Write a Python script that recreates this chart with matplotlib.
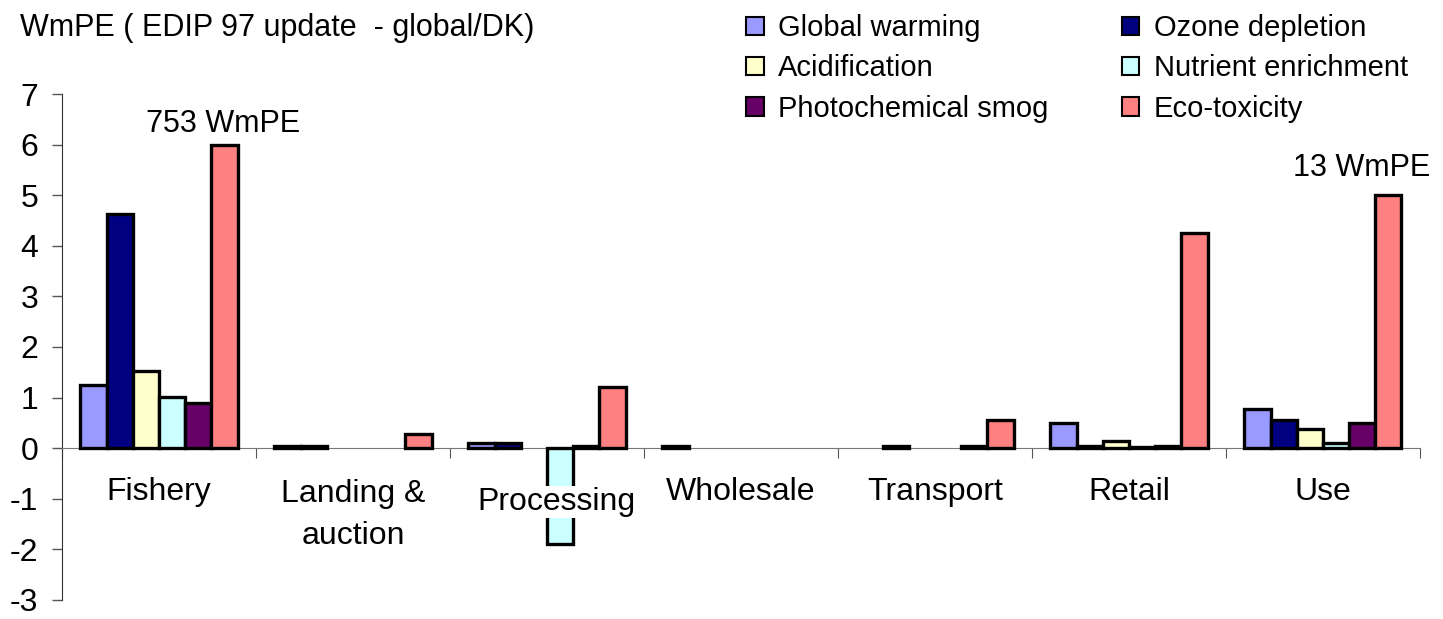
import numpy as np
import matplotlib.pyplot as plt
from matplotlib.patches import Patch

plt.rcParams['font.family'] = ['Liberation Sans', 'DejaVu Sans']
plt.rcParams['axes.unicode_minus'] = False

kategorier = ['Fishery', 'Landing &\nauction', 'Processing', 'Wholesale', 'Transport', 'Retail', 'Use']
serier = ['Global warming', 'Ozone depletion', 'Acidification',
          'Nutrient enrichment', 'Photochemical smog', 'Eco-toxicity']
farger = ['#9999FF', '#000080', '#FFFFCC', '#CCFFFF', '#660066', '#FF8080']

global_warming = [1.25, 0.05, 0.10, 0.04, 0.0, 0.50, 0.78]
ozone = [4.63, 0.05, 0.10, 0.0, 0.04, 0.04, 0.55]
acidification = [1.53, 0.0, 0.0, 0.0, 0.0, 0.15, 0.38]
nutrient = [1.02, 0.0, -1.90, 0.0, 0.0, 0.03, 0.10]
smog = [0.90, 0.0, 0.05, 0.0, 0.04, 0.04, 0.50]
eco_tox = [6.00, 0.28, 1.20, 0.0, 0.55, 4.25, 5.00]
data = [global_warming, ozone, acidification, nutrient, smog, eco_tox]

# text over capped bars
etiketter = {0: '753 WmPE', 6: '13 WmPE'}

fig = plt.figure(figsize=(14.43, 6.19), dpi=100)
ax = fig.add_axes([0.043, 0.031, 0.941, 0.817])

x = np.arange(len(kategorier))
bredd = 0.135
for i, (namn, varden) in enumerate(zip(serier, data)):
    pos = x + (i - 2.5) * bredd
    for p, v in zip(pos, varden):
        if v == 0:
            continue
        ax.bar(p, v, width=bredd, color=farger[i], edgecolor='black', linewidth=2.4, zorder=3)

ax.text(x[0] + 0.33, eco_tox[0] + 0.12, etiketter[0], ha='center', va='bottom', fontsize=22)
ax.text(x[6] + 0.2, eco_tox[6] + 0.25, etiketter[6], ha='center', va='bottom', fontsize=22)

ax.set_xlim(-0.5, len(kategorier) - 0.5)
ax.set_ylim(-3, 7)
ax.set_yticks(range(-3, 8))
ax.tick_params(axis='y', labelsize=23, length=7, width=1, color='#555555', pad=10)
ax.spines['top'].set_visible(False)
ax.spines['right'].set_visible(False)
ax.spines['left'].set_color('#333333')
ax.spines['bottom'].set_position(('data', 0))
ax.spines['bottom'].set_color('#777777')
ax.set_xticks(np.arange(len(kategorier) + 1) - 0.5)
ax.set_xticklabels([])
ax.tick_params(axis='x', length=7, color='#555555', direction='out')

for i, k in enumerate(kategorier):
    if k == 'Processing':
        ax.text(x[i] + 0.05, -1.07, k, ha='center', va='center', fontsize=23, zorder=5,
                bbox=dict(facecolor='white', edgecolor='none', pad=1))
    elif '\n' in k:
        rader = k.split('\n')
        ax.text(x[i], -0.9, rader[0], ha='center', va='center', fontsize=23, zorder=5)
        ax.text(x[i], -1.74, rader[1], ha='center', va='center', fontsize=23, zorder=5)
    else:
        ax.text(x[i], -0.87, k, ha='center', va='center', fontsize=23, zorder=5)

fig.text(0.014, 0.955, 'WmPE ( EDIP 97 update  - global/DK)', fontsize=22, va='center')

# legend radvis: matplotlib fyller kolumnvis
ordning = [0, 2, 4, 1, 3, 5]
handtag = [Patch(facecolor=farger[j], edgecolor='black', linewidth=1.5) for j in ordning]
ax.legend(handtag, [serier[j] for j in ordning], loc='upper left', bbox_to_anchor=(0.503, 1.01),
          bbox_transform=fig.transFigure, ncol=2, frameon=False, fontsize=21,
          handlelength=0.6, handleheight=0.6, handletextpad=0.5, columnspacing=2.5,
          labelspacing=0.42, borderpad=0.2)

fig.savefig('out.png', dpi=100)
